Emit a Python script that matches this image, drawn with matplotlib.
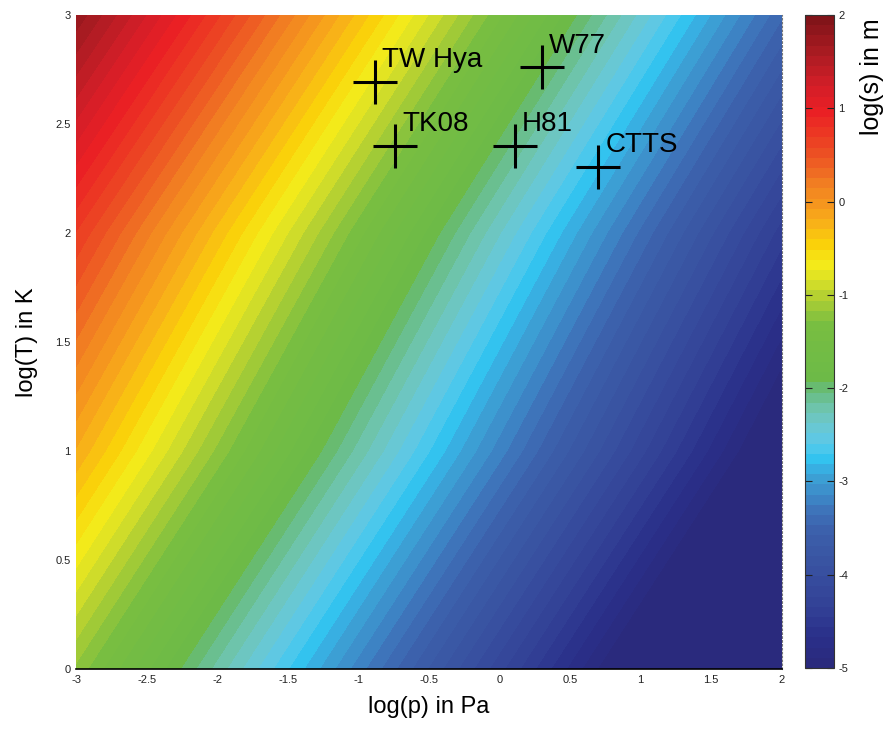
import numpy as np
import matplotlib
matplotlib.use('Agg')
import matplotlib.pyplot as plt
import matplotlib.cm as mcm
from matplotlib.colors import LinearSegmentedColormap, ListedColormap, BoundaryNorm

# ---- field values: log(s) on a coarse grid ----
logp_nodes = [-3.0, 2.0]
logT_nodes = [0.0, 1.0, 2.0, 3.0]
logs_grid = [[-1.20, -6.20],
             [-0.20, -5.20],
             [0.68, -4.40],
             [1.75, -3.45]]

# ---- labelled objects ----
obj_names = ['TW Hya', 'W77', 'TK08', 'H81', 'CTTS']
obj_logp = [-0.88, 0.30, -0.74, 0.11, 0.70]
obj_logT = [2.695, 2.76, 2.40, 2.40, 2.305]

# ---- colour scale (value -> colour anchors) ----
cbar_vals = [-5.0, -4.7, -4.4, -4.0, -3.6, -3.3, -3.0, -2.85, -2.75, -2.65,
             -2.54, -2.43, -2.32, -2.2, -2.1, -2.0, -1.95, -1.3, -1.0, -0.85,
             -0.65, -0.45, -0.2, 0.0, 0.3, 0.6, 1.0, 1.3, 1.6, 2.0]
cbar_rgb = [(42, 42, 125), (42, 48, 138), (50, 65, 150), (56, 80, 160),
            (60, 95, 170), (62, 120, 190), (60, 158, 212), (55, 180, 230),
            (50, 200, 242), (80, 200, 235), (98, 200, 225), (105, 200, 210),
            (110, 198, 190), (110, 195, 165), (105, 190, 140), (104, 187, 110),
            (108, 186, 72), (120, 190, 65), (180, 208, 50), (215, 223, 40),
            (245, 235, 25), (250, 210, 10), (248, 175, 25), (245, 150, 30),
            (240, 115, 35), (236, 75, 35), (235, 32, 36), (210, 30, 40),
            (175, 28, 35), (130, 20, 25)]
vmin, vmax, ncol = -5.0, 2.0, 64
cbar_ticks = [-5, -4, -3, -2, -1, 0, 1, 2]
x_ticks = [-3, -2.5, -2, -1.5, -1, -0.5, 0, 0.5, 1, 1.5, 2]
y_ticks = [0, 0.5, 1, 1.5, 2, 2.5, 3]

pos = [(v - vmin) / (vmax - vmin) for v in cbar_vals]
base = LinearSegmentedColormap.from_list(
    'custom', list(zip(pos, [tuple(c / 255 for c in rgb) for rgb in cbar_rgb])))
cols = base(np.linspace(0, 1, ncol))
cmap = ListedColormap(cols)
cmap.set_under(cols[0])
cmap.set_over(cols[-1])
levels = np.linspace(vmin, vmax, ncol + 1)
norm = BoundaryNorm(levels, ncol)

plt.rcParams['font.family'] = ['Liberation Sans', 'DejaVu Sans']

fig = plt.figure(figsize=(8.9, 7.31), dpi=100)
ax = fig.add_axes([0.0854, 0.0844, 0.7929, 0.8951])
cax = fig.add_axes([0.9045, 0.0862, 0.0326, 0.8933])

cf = ax.contourf(logp_nodes, logT_nodes, np.array(logs_grid), levels=levels,
                 cmap=cmap, norm=norm, extend='both', antialiased=False)

ax.plot(obj_logp, obj_logT, linestyle='none', marker='+', color='black',
        markersize=32, markeredgewidth=2.2)
for n, px, py in zip(obj_names, obj_logp, obj_logT):
    ax.text(px + 0.05, py + 0.066, n, fontsize=20, color='black',
            ha='left', va='baseline')

ax.set_xlim(-3, 2)
ax.set_ylim(0, 3)
ax.set_xticks(x_ticks)
ax.set_xticklabels([f'{t:g}' for t in x_ticks])
ax.set_yticks(y_ticks)
ax.set_yticklabels([f'{t:g}' for t in y_ticks])
ax.tick_params(length=0, labelsize=8, pad=4, colors='#222222')
for s in ['top', 'left']:
    ax.spines[s].set_visible(False)
ax.spines['bottom'].set_color('black')
ax.spines['bottom'].set_linewidth(1.2)
ax.spines['right'].set_color('#777777')
ax.spines['right'].set_linestyle((0, (1.5, 2)))
ax.spines['right'].set_linewidth(0.8)

ax.set_xlabel('log(p) in Pa', fontsize=17, labelpad=8)
ax.set_ylabel('log(T) in K', fontsize=17, labelpad=12)

sm = mcm.ScalarMappable(norm=norm, cmap=cmap)
cb = fig.colorbar(sm, cax=cax, ticks=cbar_ticks)
cb.minorticks_off()
cb.outline.set_edgecolor('#333333')
cb.outline.set_linewidth(0.8)
cax.tick_params(direction='in', left=True, right=True, length=5, width=0.8,
                labelsize=8, pad=3, colors='#222222')
cax.set_yticklabels([f'{t}' for t in cbar_ticks])
fig.text(872 / 890, 1 - 18 / 731, 'log(s) in m', rotation=90, fontsize=18,
         ha='center', va='top')

fig.savefig('out.png', dpi=100)
